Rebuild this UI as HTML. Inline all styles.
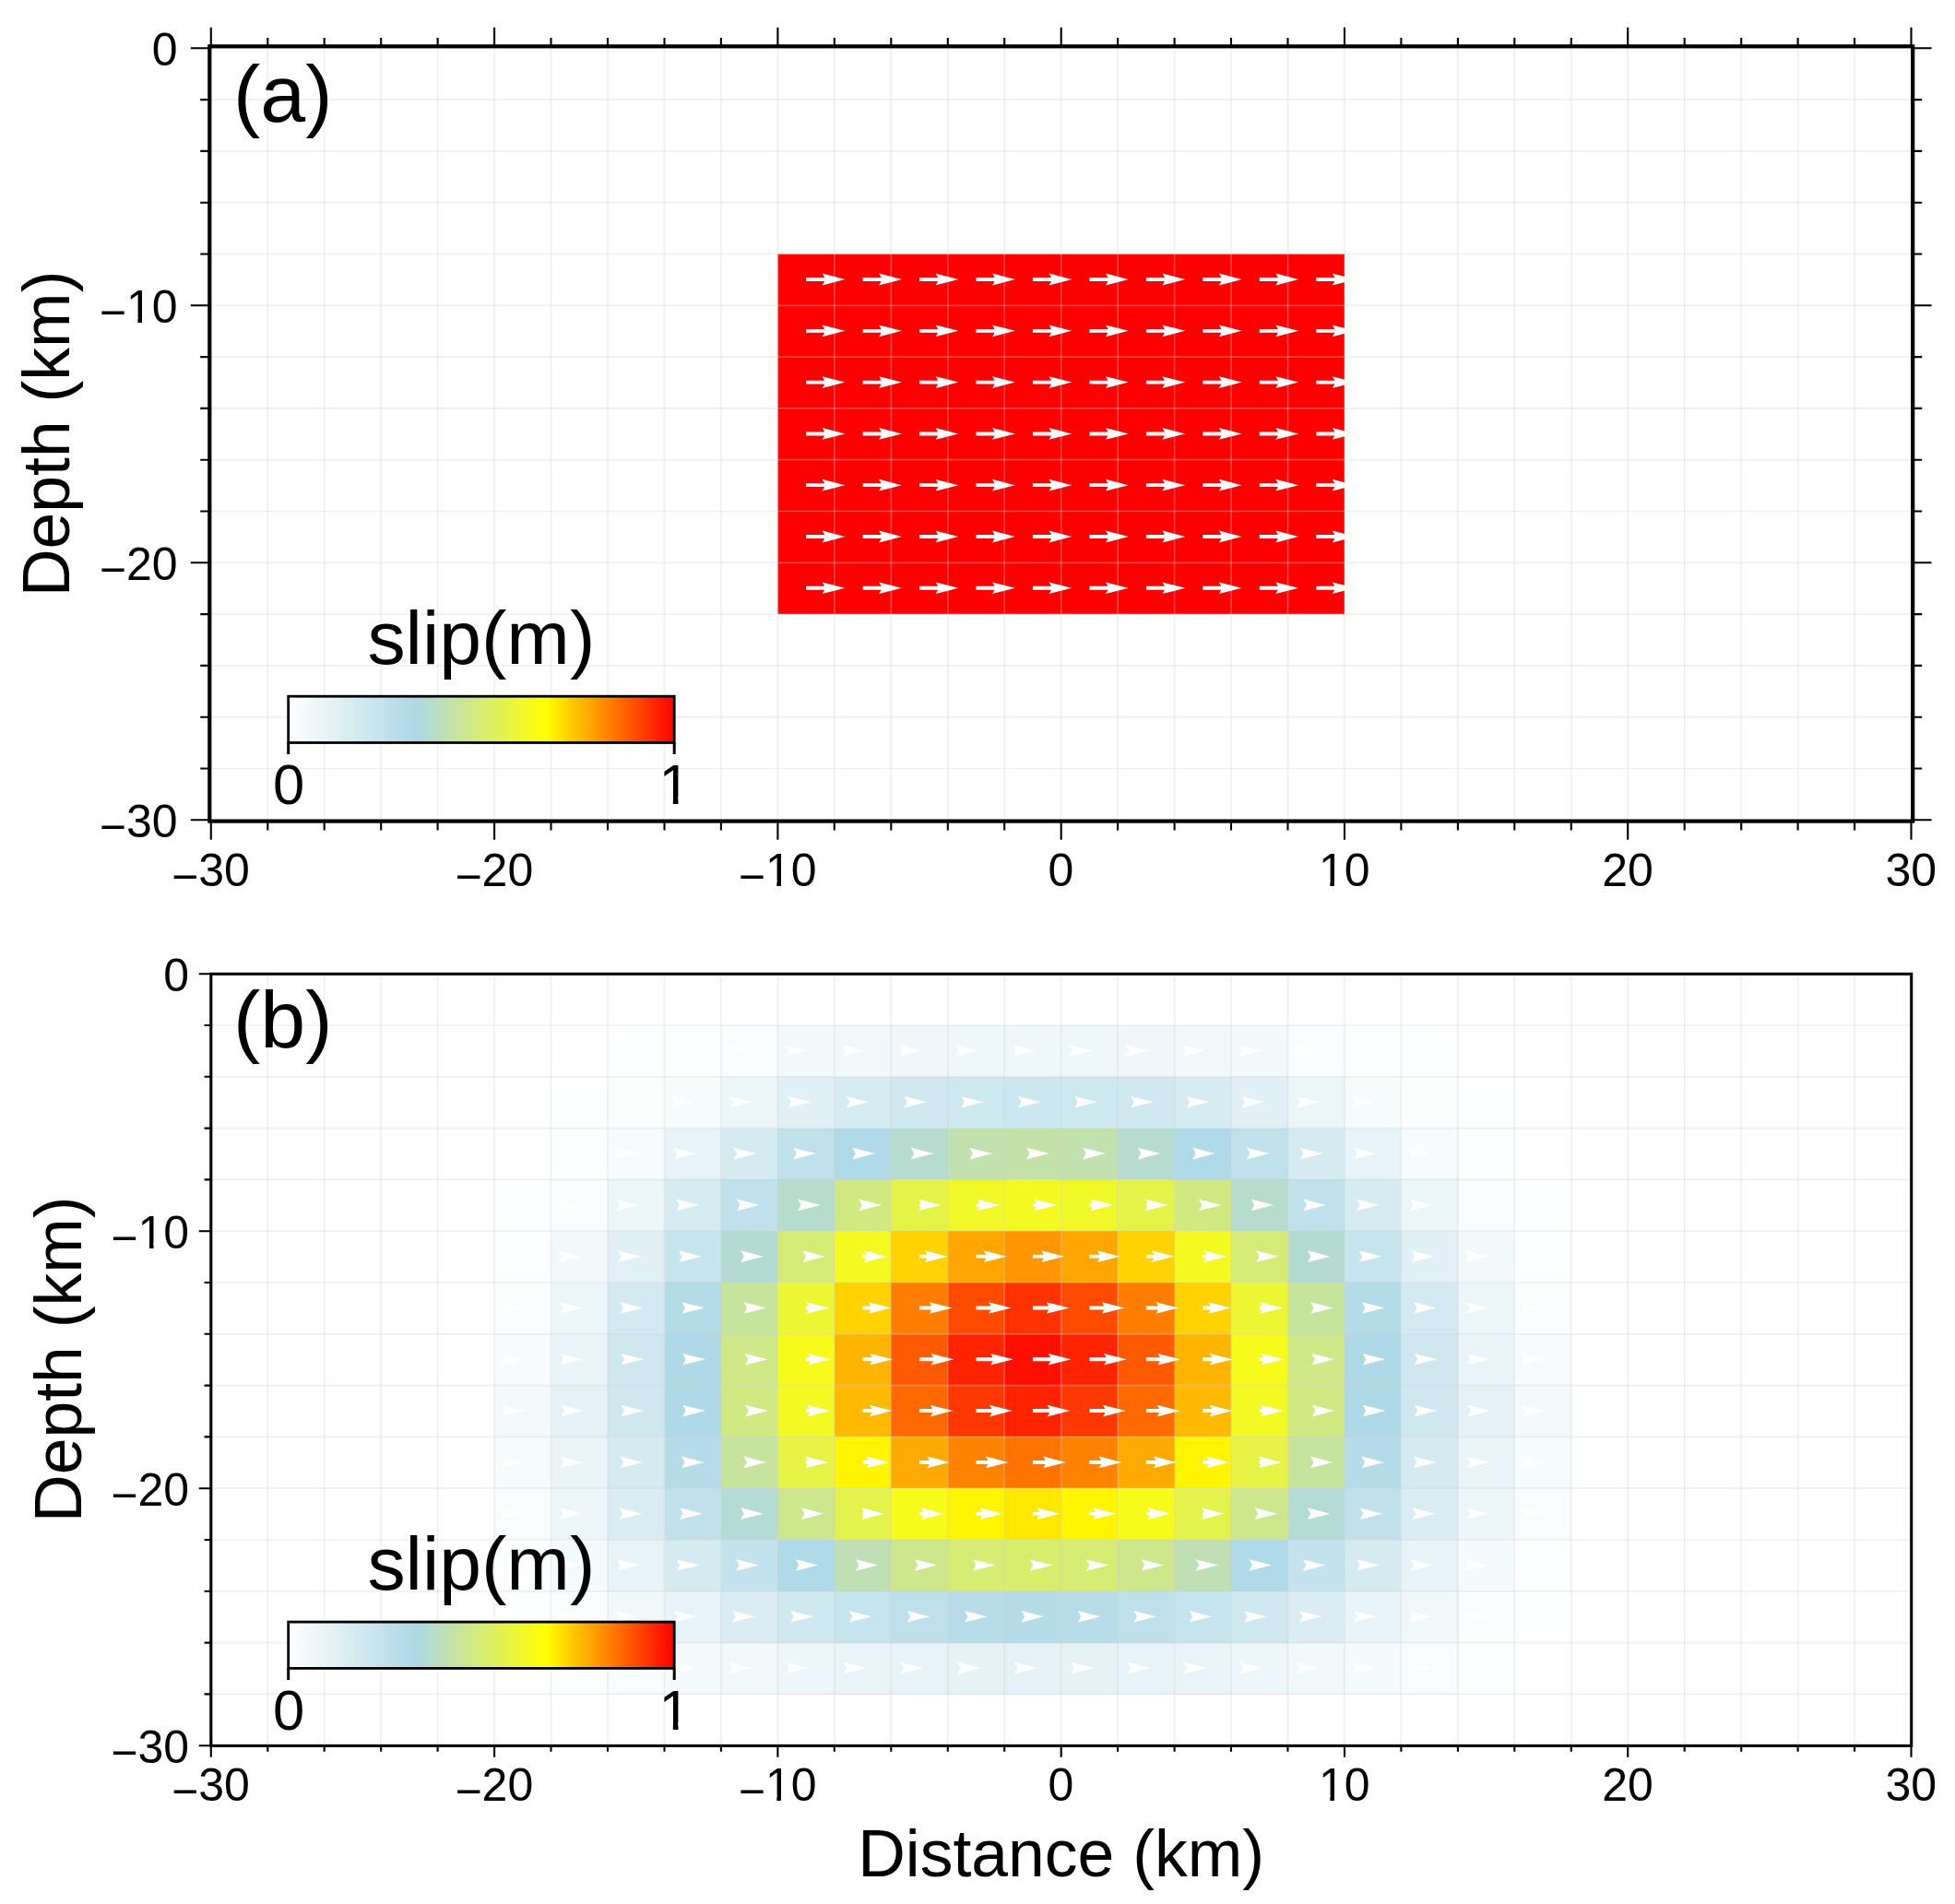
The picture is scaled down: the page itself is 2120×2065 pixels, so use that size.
<!DOCTYPE html>
<html lang="en"><head><meta charset="utf-8"><title>slip model</title>
<style>html,body{margin:0;padding:0;background:#fff}body{width:2120px;height:2065px;overflow:hidden}svg{display:block}text{font-family:"Liberation Sans",Arial,Helvetica,sans-serif;fill:#000}</style></head><body>
<svg width="2120" height="2065" viewBox="0 0 2120 2065">
<defs><linearGradient id="cpt" x1="0" x2="1" y1="0" y2="0"><stop offset="0" stop-color="#ffffff"/><stop offset="0.3333" stop-color="#add8e6"/><stop offset="0.6667" stop-color="#ffff00"/><stop offset="1" stop-color="#ff0000"/></linearGradient></defs>
<rect width="2120" height="2065" fill="#fff"/>
<g id="panel-a">
<rect x="843.4" y="275.5" width="614.6" height="390.6" fill="#ff0000"/>
<g stroke="#d0d0d0" stroke-opacity="0.32" stroke-width="1.7" fill="none"><line x1="290.3" y1="52.3" x2="290.3" y2="889.3"/><line x1="351.7" y1="52.3" x2="351.7" y2="889.3"/><line x1="413.2" y1="52.3" x2="413.2" y2="889.3"/><line x1="474.6" y1="52.3" x2="474.6" y2="889.3"/><line x1="536.1" y1="52.3" x2="536.1" y2="889.3"/><line x1="597.5" y1="52.3" x2="597.5" y2="889.3"/><line x1="659.0" y1="52.3" x2="659.0" y2="889.3"/><line x1="720.5" y1="52.3" x2="720.5" y2="889.3"/><line x1="781.9" y1="52.3" x2="781.9" y2="889.3"/><line x1="843.4" y1="52.3" x2="843.4" y2="889.3"/><line x1="904.8" y1="52.3" x2="904.8" y2="889.3"/><line x1="966.3" y1="52.3" x2="966.3" y2="889.3"/><line x1="1027.8" y1="52.3" x2="1027.8" y2="889.3"/><line x1="1089.2" y1="52.3" x2="1089.2" y2="889.3"/><line x1="1150.7" y1="52.3" x2="1150.7" y2="889.3"/><line x1="1212.1" y1="52.3" x2="1212.1" y2="889.3"/><line x1="1273.6" y1="52.3" x2="1273.6" y2="889.3"/><line x1="1335.0" y1="52.3" x2="1335.0" y2="889.3"/><line x1="1396.5" y1="52.3" x2="1396.5" y2="889.3"/><line x1="1458.0" y1="52.3" x2="1458.0" y2="889.3"/><line x1="1519.4" y1="52.3" x2="1519.4" y2="889.3"/><line x1="1580.9" y1="52.3" x2="1580.9" y2="889.3"/><line x1="1642.3" y1="52.3" x2="1642.3" y2="889.3"/><line x1="1703.8" y1="52.3" x2="1703.8" y2="889.3"/><line x1="1765.2" y1="52.3" x2="1765.2" y2="889.3"/><line x1="1826.7" y1="52.3" x2="1826.7" y2="889.3"/><line x1="1888.2" y1="52.3" x2="1888.2" y2="889.3"/><line x1="1949.6" y1="52.3" x2="1949.6" y2="889.3"/><line x1="2011.1" y1="52.3" x2="2011.1" y2="889.3"/><line x1="228.8" y1="833.5" x2="2072.5" y2="833.5"/><line x1="228.8" y1="777.7" x2="2072.5" y2="777.7"/><line x1="228.8" y1="721.9" x2="2072.5" y2="721.9"/><line x1="228.8" y1="666.1" x2="2072.5" y2="666.1"/><line x1="228.8" y1="610.3" x2="2072.5" y2="610.3"/><line x1="228.8" y1="554.5" x2="2072.5" y2="554.5"/><line x1="228.8" y1="498.7" x2="2072.5" y2="498.7"/><line x1="228.8" y1="442.9" x2="2072.5" y2="442.9"/><line x1="228.8" y1="387.1" x2="2072.5" y2="387.1"/><line x1="228.8" y1="331.3" x2="2072.5" y2="331.3"/><line x1="228.8" y1="275.5" x2="2072.5" y2="275.5"/><line x1="228.8" y1="219.7" x2="2072.5" y2="219.7"/><line x1="228.8" y1="163.9" x2="2072.5" y2="163.9"/><line x1="228.8" y1="108.1" x2="2072.5" y2="108.1"/></g>
<g fill="#fff">
<polygon points="874.1,301.1 894.1,301.1 891.7,296.6 916.4,303.0 891.7,309.4 894.1,304.9 874.1,304.9"/>
<polygon points="935.6,301.1 955.6,301.1 953.2,296.6 977.9,303.0 953.2,309.4 955.6,304.9 935.6,304.9"/>
<polygon points="997.0,301.1 1017.1,301.1 1014.6,296.6 1039.3,303.0 1014.6,309.4 1017.1,304.9 997.0,304.9"/>
<polygon points="1058.5,301.1 1078.5,301.1 1076.1,296.6 1100.8,303.0 1076.1,309.4 1078.5,304.9 1058.5,304.9"/>
<polygon points="1119.9,301.1 1140.0,301.1 1137.5,296.6 1162.2,303.0 1137.5,309.4 1140.0,304.9 1119.9,304.9"/>
<polygon points="1181.4,301.1 1201.4,301.1 1199.0,296.6 1223.7,303.0 1199.0,309.4 1201.4,304.9 1181.4,304.9"/>
<polygon points="1242.9,301.1 1262.9,301.1 1260.5,296.6 1285.2,303.0 1260.5,309.4 1262.9,304.9 1242.9,304.9"/>
<polygon points="1304.3,301.1 1324.3,301.1 1321.9,296.6 1346.6,303.0 1321.9,309.4 1324.3,304.9 1304.3,304.9"/>
<polygon points="1365.8,301.1 1385.8,301.1 1383.4,296.6 1408.1,303.0 1383.4,309.4 1385.8,304.9 1365.8,304.9"/>
<polygon points="1427.2,301.1 1447.3,301.1 1444.8,296.6 1469.5,303.0 1444.8,309.4 1447.3,304.9 1427.2,304.9"/>
<polygon points="874.1,356.9 894.1,356.9 891.7,352.4 916.4,358.8 891.7,365.2 894.1,360.8 874.1,360.8"/>
<polygon points="935.6,356.9 955.6,356.9 953.2,352.4 977.9,358.8 953.2,365.2 955.6,360.8 935.6,360.8"/>
<polygon points="997.0,356.9 1017.1,356.9 1014.6,352.4 1039.3,358.8 1014.6,365.2 1017.1,360.8 997.0,360.8"/>
<polygon points="1058.5,356.9 1078.5,356.9 1076.1,352.4 1100.8,358.8 1076.1,365.2 1078.5,360.8 1058.5,360.8"/>
<polygon points="1119.9,356.9 1140.0,356.9 1137.5,352.4 1162.2,358.8 1137.5,365.2 1140.0,360.8 1119.9,360.8"/>
<polygon points="1181.4,356.9 1201.4,356.9 1199.0,352.4 1223.7,358.8 1199.0,365.2 1201.4,360.8 1181.4,360.8"/>
<polygon points="1242.9,356.9 1262.9,356.9 1260.5,352.4 1285.2,358.8 1260.5,365.2 1262.9,360.8 1242.9,360.8"/>
<polygon points="1304.3,356.9 1324.3,356.9 1321.9,352.4 1346.6,358.8 1321.9,365.2 1324.3,360.8 1304.3,360.8"/>
<polygon points="1365.8,356.9 1385.8,356.9 1383.4,352.4 1408.1,358.8 1383.4,365.2 1385.8,360.8 1365.8,360.8"/>
<polygon points="1427.2,356.9 1447.3,356.9 1444.8,352.4 1469.5,358.8 1444.8,365.2 1447.3,360.8 1427.2,360.8"/>
<polygon points="874.1,412.7 894.1,412.7 891.7,408.2 916.4,414.6 891.7,421.0 894.1,416.6 874.1,416.6"/>
<polygon points="935.6,412.7 955.6,412.7 953.2,408.2 977.9,414.6 953.2,421.0 955.6,416.6 935.6,416.6"/>
<polygon points="997.0,412.7 1017.1,412.7 1014.6,408.2 1039.3,414.6 1014.6,421.0 1017.1,416.6 997.0,416.6"/>
<polygon points="1058.5,412.7 1078.5,412.7 1076.1,408.2 1100.8,414.6 1076.1,421.0 1078.5,416.6 1058.5,416.6"/>
<polygon points="1119.9,412.7 1140.0,412.7 1137.5,408.2 1162.2,414.6 1137.5,421.0 1140.0,416.6 1119.9,416.6"/>
<polygon points="1181.4,412.7 1201.4,412.7 1199.0,408.2 1223.7,414.6 1199.0,421.0 1201.4,416.6 1181.4,416.6"/>
<polygon points="1242.9,412.7 1262.9,412.7 1260.5,408.2 1285.2,414.6 1260.5,421.0 1262.9,416.6 1242.9,416.6"/>
<polygon points="1304.3,412.7 1324.3,412.7 1321.9,408.2 1346.6,414.6 1321.9,421.0 1324.3,416.6 1304.3,416.6"/>
<polygon points="1365.8,412.7 1385.8,412.7 1383.4,408.2 1408.1,414.6 1383.4,421.0 1385.8,416.6 1365.8,416.6"/>
<polygon points="1427.2,412.7 1447.3,412.7 1444.8,408.2 1469.5,414.6 1444.8,421.0 1447.3,416.6 1427.2,416.6"/>
<polygon points="874.1,468.5 894.1,468.5 891.7,464.1 916.4,470.4 891.7,476.8 894.1,472.4 874.1,472.4"/>
<polygon points="935.6,468.5 955.6,468.5 953.2,464.1 977.9,470.4 953.2,476.8 955.6,472.4 935.6,472.4"/>
<polygon points="997.0,468.5 1017.1,468.5 1014.6,464.1 1039.3,470.4 1014.6,476.8 1017.1,472.4 997.0,472.4"/>
<polygon points="1058.5,468.5 1078.5,468.5 1076.1,464.1 1100.8,470.4 1076.1,476.8 1078.5,472.4 1058.5,472.4"/>
<polygon points="1119.9,468.5 1140.0,468.5 1137.5,464.1 1162.2,470.4 1137.5,476.8 1140.0,472.4 1119.9,472.4"/>
<polygon points="1181.4,468.5 1201.4,468.5 1199.0,464.1 1223.7,470.4 1199.0,476.8 1201.4,472.4 1181.4,472.4"/>
<polygon points="1242.9,468.5 1262.9,468.5 1260.5,464.1 1285.2,470.4 1260.5,476.8 1262.9,472.4 1242.9,472.4"/>
<polygon points="1304.3,468.5 1324.3,468.5 1321.9,464.1 1346.6,470.4 1321.9,476.8 1324.3,472.4 1304.3,472.4"/>
<polygon points="1365.8,468.5 1385.8,468.5 1383.4,464.1 1408.1,470.4 1383.4,476.8 1385.8,472.4 1365.8,472.4"/>
<polygon points="1427.2,468.5 1447.3,468.5 1444.8,464.1 1469.5,470.4 1444.8,476.8 1447.3,472.4 1427.2,472.4"/>
<polygon points="874.1,524.2 894.1,524.2 891.7,519.8 916.4,526.2 891.7,532.5 894.1,528.1 874.1,528.1"/>
<polygon points="935.6,524.2 955.6,524.2 953.2,519.8 977.9,526.2 953.2,532.5 955.6,528.1 935.6,528.1"/>
<polygon points="997.0,524.2 1017.1,524.2 1014.6,519.8 1039.3,526.2 1014.6,532.5 1017.1,528.1 997.0,528.1"/>
<polygon points="1058.5,524.2 1078.5,524.2 1076.1,519.8 1100.8,526.2 1076.1,532.5 1078.5,528.1 1058.5,528.1"/>
<polygon points="1119.9,524.2 1140.0,524.2 1137.5,519.8 1162.2,526.2 1137.5,532.5 1140.0,528.1 1119.9,528.1"/>
<polygon points="1181.4,524.2 1201.4,524.2 1199.0,519.8 1223.7,526.2 1199.0,532.5 1201.4,528.1 1181.4,528.1"/>
<polygon points="1242.9,524.2 1262.9,524.2 1260.5,519.8 1285.2,526.2 1260.5,532.5 1262.9,528.1 1242.9,528.1"/>
<polygon points="1304.3,524.2 1324.3,524.2 1321.9,519.8 1346.6,526.2 1321.9,532.5 1324.3,528.1 1304.3,528.1"/>
<polygon points="1365.8,524.2 1385.8,524.2 1383.4,519.8 1408.1,526.2 1383.4,532.5 1385.8,528.1 1365.8,528.1"/>
<polygon points="1427.2,524.2 1447.3,524.2 1444.8,519.8 1469.5,526.2 1444.8,532.5 1447.3,528.1 1427.2,528.1"/>
<polygon points="874.1,580.0 894.1,580.0 891.7,575.6 916.4,582.0 891.7,588.4 894.1,584.0 874.1,584.0"/>
<polygon points="935.6,580.0 955.6,580.0 953.2,575.6 977.9,582.0 953.2,588.4 955.6,584.0 935.6,584.0"/>
<polygon points="997.0,580.0 1017.1,580.0 1014.6,575.6 1039.3,582.0 1014.6,588.4 1017.1,584.0 997.0,584.0"/>
<polygon points="1058.5,580.0 1078.5,580.0 1076.1,575.6 1100.8,582.0 1076.1,588.4 1078.5,584.0 1058.5,584.0"/>
<polygon points="1119.9,580.0 1140.0,580.0 1137.5,575.6 1162.2,582.0 1137.5,588.4 1140.0,584.0 1119.9,584.0"/>
<polygon points="1181.4,580.0 1201.4,580.0 1199.0,575.6 1223.7,582.0 1199.0,588.4 1201.4,584.0 1181.4,584.0"/>
<polygon points="1242.9,580.0 1262.9,580.0 1260.5,575.6 1285.2,582.0 1260.5,588.4 1262.9,584.0 1242.9,584.0"/>
<polygon points="1304.3,580.0 1324.3,580.0 1321.9,575.6 1346.6,582.0 1321.9,588.4 1324.3,584.0 1304.3,584.0"/>
<polygon points="1365.8,580.0 1385.8,580.0 1383.4,575.6 1408.1,582.0 1383.4,588.4 1385.8,584.0 1365.8,584.0"/>
<polygon points="1427.2,580.0 1447.3,580.0 1444.8,575.6 1469.5,582.0 1444.8,588.4 1447.3,584.0 1427.2,584.0"/>
<polygon points="874.1,635.8 894.1,635.8 891.7,631.4 916.4,637.8 891.7,644.1 894.1,639.8 874.1,639.8"/>
<polygon points="935.6,635.8 955.6,635.8 953.2,631.4 977.9,637.8 953.2,644.1 955.6,639.8 935.6,639.8"/>
<polygon points="997.0,635.8 1017.1,635.8 1014.6,631.4 1039.3,637.8 1014.6,644.1 1017.1,639.8 997.0,639.8"/>
<polygon points="1058.5,635.8 1078.5,635.8 1076.1,631.4 1100.8,637.8 1076.1,644.1 1078.5,639.8 1058.5,639.8"/>
<polygon points="1119.9,635.8 1140.0,635.8 1137.5,631.4 1162.2,637.8 1137.5,644.1 1140.0,639.8 1119.9,639.8"/>
<polygon points="1181.4,635.8 1201.4,635.8 1199.0,631.4 1223.7,637.8 1199.0,644.1 1201.4,639.8 1181.4,639.8"/>
<polygon points="1242.9,635.8 1262.9,635.8 1260.5,631.4 1285.2,637.8 1260.5,644.1 1262.9,639.8 1242.9,639.8"/>
<polygon points="1304.3,635.8 1324.3,635.8 1321.9,631.4 1346.6,637.8 1321.9,644.1 1324.3,639.8 1304.3,639.8"/>
<polygon points="1365.8,635.8 1385.8,635.8 1383.4,631.4 1408.1,637.8 1383.4,644.1 1385.8,639.8 1365.8,639.8"/>
<polygon points="1427.2,635.8 1447.3,635.8 1444.8,631.4 1469.5,637.8 1444.8,644.1 1447.3,639.8 1427.2,639.8"/>
</g>
<rect x="312.7" y="755.2" width="418.5" height="50.3" fill="url(#cpt)" stroke="#000" stroke-width="2.8"/><path d="M312.7 805.5V818.0M731.2 805.5V818.0" stroke="#000" stroke-width="3" fill="none"/><text x="313.2" y="871.6" font-size="61.5" text-anchor="middle">0</text><clipPath id="c1" clipPathUnits="userSpaceOnUse"><path clip-rule="evenodd" d="M710.5 810.1H752.7V890.1H710.5ZM716.35 864.22H729.82V873.60H716.35ZM735.47 864.22H748.51V873.60H735.47Z"/></clipPath><text x="731.6" y="871.6" font-size="61.5" text-anchor="middle" clip-path="url(#c1)">1</text><text x="521.9" y="720.4" font-size="82.3" text-anchor="middle">slip(m)</text>
<g stroke="#000" fill="none" stroke-linecap="butt">
<path stroke-width="2.1" d="M228.8 50.3V29.7M228.8 890.6V910.8M536.1 50.3V29.7M536.1 890.6V910.8M843.4 50.3V29.7M843.4 890.6V910.8M1150.7 50.3V29.7M1150.7 890.6V910.8M1458.0 50.3V29.7M1458.0 890.6V910.8M1765.2 50.3V29.7M1765.2 890.6V910.8M2072.5 50.3V29.7M2072.5 890.6V910.8M227.3 889.3H206.8M2074.2 889.3H2094.6M227.3 610.3H206.8M2074.2 610.3H2094.6M227.3 331.3H206.8M2074.2 331.3H2094.6M227.3 52.3H206.8M2074.2 52.3H2094.6"/>
<path stroke-width="2.1" d="M290.3 50.3V41.0M290.3 890.6V900.6M351.7 50.3V41.0M351.7 890.6V900.6M413.2 50.3V41.0M413.2 890.6V900.6M474.6 50.3V41.0M474.6 890.6V900.6M597.5 50.3V41.0M597.5 890.6V900.6M659.0 50.3V41.0M659.0 890.6V900.6M720.5 50.3V41.0M720.5 890.6V900.6M781.9 50.3V41.0M781.9 890.6V900.6M904.8 50.3V41.0M904.8 890.6V900.6M966.3 50.3V41.0M966.3 890.6V900.6M1027.8 50.3V41.0M1027.8 890.6V900.6M1089.2 50.3V41.0M1089.2 890.6V900.6M1212.1 50.3V41.0M1212.1 890.6V900.6M1273.6 50.3V41.0M1273.6 890.6V900.6M1335.0 50.3V41.0M1335.0 890.6V900.6M1396.5 50.3V41.0M1396.5 890.6V900.6M1519.4 50.3V41.0M1519.4 890.6V900.6M1580.9 50.3V41.0M1580.9 890.6V900.6M1642.3 50.3V41.0M1642.3 890.6V900.6M1703.8 50.3V41.0M1703.8 890.6V900.6M1826.7 50.3V41.0M1826.7 890.6V900.6M1888.2 50.3V41.0M1888.2 890.6V900.6M1949.6 50.3V41.0M1949.6 890.6V900.6M2011.1 50.3V41.0M2011.1 890.6V900.6M227.3 833.5H217.2M2074.2 833.5H2084.2M227.3 777.7H217.2M2074.2 777.7H2084.2M227.3 721.9H217.2M2074.2 721.9H2084.2M227.3 666.1H217.2M2074.2 666.1H2084.2M227.3 554.5H217.2M2074.2 554.5H2084.2M227.3 498.7H217.2M2074.2 498.7H2084.2M227.3 442.9H217.2M2074.2 442.9H2084.2M227.3 387.1H217.2M2074.2 387.1H2084.2M227.3 275.5H217.2M2074.2 275.5H2084.2M227.3 219.7H217.2M2074.2 219.7H2084.2M227.3 163.9H217.2M2074.2 163.9H2084.2M227.3 108.1H217.2M2074.2 108.1H2084.2"/>
<rect x="227.3" y="50.3" width="1846.9" height="840.3" stroke-width="4.2"/>
</g>
<g font-size="50">
<text x="228.5" y="961.3" font-size="50" text-anchor="middle"><tspan dy="6.5">−</tspan><tspan dy="-6.5">30</tspan></text>
<text x="535.8" y="961.3" font-size="50" text-anchor="middle"><tspan dy="6.5">−</tspan><tspan dy="-6.5">20</tspan></text>
<clipPath id="c2" clipPathUnits="userSpaceOnUse"><path clip-rule="evenodd" d="M796.7 911.3H889.5V976.3H796.7ZM831.38 955.30H842.33V963.30H831.38ZM846.93 955.30H857.53V963.30H846.93Z"/></clipPath><text x="843.1" y="961.3" font-size="50" text-anchor="middle" clip-path="url(#c2)"><tspan dy="6.5">−</tspan><tspan dy="-6.5">10</tspan></text>
<text x="1150.4" y="961.3" font-size="50" text-anchor="middle">0</text>
<clipPath id="c3" clipPathUnits="userSpaceOnUse"><path clip-rule="evenodd" d="M1425.9 911.3H1489.5V976.3H1425.9ZM1431.36 955.30H1442.31V963.30H1431.36ZM1446.91 955.30H1457.51V963.30H1446.91Z"/></clipPath><text x="1457.7" y="961.3" font-size="50" text-anchor="middle" clip-path="url(#c3)">10</text>
<text x="1765.0" y="961.3" font-size="50" text-anchor="middle">20</text>
<text x="2072.2" y="961.3" font-size="50" text-anchor="middle">30</text>
<text x="192.5" y="907.8" font-size="50" text-anchor="end"><tspan dy="6.5">−</tspan><tspan dy="-6.5">30</tspan></text>
<text x="192.5" y="628.8" font-size="50" text-anchor="end"><tspan dy="6.5">−</tspan><tspan dy="-6.5">20</tspan></text>
<clipPath id="c4" clipPathUnits="userSpaceOnUse"><path clip-rule="evenodd" d="M103.7 299.8H196.5V364.8H103.7ZM138.40 343.80H149.35V351.80H138.40ZM153.95 343.80H164.55V351.80H153.95Z"/></clipPath><text x="192.5" y="349.8" font-size="50" text-anchor="end" clip-path="url(#c4)"><tspan dy="6.5">−</tspan><tspan dy="-6.5">10</tspan></text>
<text x="192.5" y="70.8" font-size="50" text-anchor="end">0</text>
</g>
<text font-size="71.5" text-anchor="middle" transform="translate(75.2 470.3) rotate(-90)">Depth (km)</text>
<text x="253.0" y="132.0" font-size="88">(a)</text>
</g>
<g id="panel-b">
<g shape-rendering="crispEdges">
<rect x="659.0" y="1112.0" width="61.8" height="56.1" fill="#feffff"/>
<rect x="720.5" y="1112.0" width="61.8" height="56.1" fill="#fdfefe"/>
<rect x="781.9" y="1112.0" width="61.8" height="56.1" fill="#fafdfe"/>
<rect x="843.4" y="1112.0" width="61.8" height="56.1" fill="#f3f9fb"/>
<rect x="904.8" y="1112.0" width="61.8" height="56.1" fill="#f0f8fa"/>
<rect x="966.3" y="1112.0" width="61.8" height="56.1" fill="#eff7fa"/>
<rect x="1027.8" y="1112.0" width="61.8" height="56.1" fill="#eef7fa"/>
<rect x="1089.2" y="1112.0" width="61.8" height="56.1" fill="#eef7fa"/>
<rect x="1150.7" y="1112.0" width="61.8" height="56.1" fill="#eef7fa"/>
<rect x="1212.1" y="1112.0" width="61.8" height="56.1" fill="#eff7fa"/>
<rect x="1273.6" y="1112.0" width="61.8" height="56.1" fill="#f0f8fa"/>
<rect x="1335.0" y="1112.0" width="61.8" height="56.1" fill="#f3f9fb"/>
<rect x="1396.5" y="1112.0" width="61.8" height="56.1" fill="#fafdfe"/>
<rect x="1458.0" y="1112.0" width="61.8" height="56.1" fill="#fdfefe"/>
<rect x="1519.4" y="1112.0" width="61.8" height="56.1" fill="#feffff"/>
<rect x="597.5" y="1167.8" width="61.8" height="56.1" fill="#feffff"/>
<rect x="659.0" y="1167.8" width="61.8" height="56.1" fill="#fcfefe"/>
<rect x="720.5" y="1167.8" width="61.8" height="56.1" fill="#f6fbfc"/>
<rect x="781.9" y="1167.8" width="61.8" height="56.1" fill="#ebf6f9"/>
<rect x="843.4" y="1167.8" width="61.8" height="56.1" fill="#e0f0f6"/>
<rect x="904.8" y="1167.8" width="61.8" height="56.1" fill="#d6ecf3"/>
<rect x="966.3" y="1167.8" width="61.8" height="56.1" fill="#d0e9f1"/>
<rect x="1027.8" y="1167.8" width="61.8" height="56.1" fill="#cee8f0"/>
<rect x="1089.2" y="1167.8" width="61.8" height="56.1" fill="#cce7ef"/>
<rect x="1150.7" y="1167.8" width="61.8" height="56.1" fill="#cee8f0"/>
<rect x="1212.1" y="1167.8" width="61.8" height="56.1" fill="#d0e9f1"/>
<rect x="1273.6" y="1167.8" width="61.8" height="56.1" fill="#d6ecf3"/>
<rect x="1335.0" y="1167.8" width="61.8" height="56.1" fill="#e0f0f6"/>
<rect x="1396.5" y="1167.8" width="61.8" height="56.1" fill="#ebf6f9"/>
<rect x="1458.0" y="1167.8" width="61.8" height="56.1" fill="#f6fbfc"/>
<rect x="1519.4" y="1167.8" width="61.8" height="56.1" fill="#fcfefe"/>
<rect x="1580.9" y="1167.8" width="61.8" height="56.1" fill="#feffff"/>
<rect x="597.5" y="1223.6" width="61.8" height="56.1" fill="#fdfefe"/>
<rect x="659.0" y="1223.6" width="61.8" height="56.1" fill="#f8fbfd"/>
<rect x="720.5" y="1223.6" width="61.8" height="56.1" fill="#e6f3f8"/>
<rect x="781.9" y="1223.6" width="61.8" height="56.1" fill="#d4ebf2"/>
<rect x="843.4" y="1223.6" width="61.8" height="56.1" fill="#c0e1ec"/>
<rect x="904.8" y="1223.6" width="61.8" height="56.1" fill="#b0dae7"/>
<rect x="966.3" y="1223.6" width="61.8" height="56.1" fill="#b5dccf"/>
<rect x="1027.8" y="1223.6" width="61.8" height="56.1" fill="#c1e1af"/>
<rect x="1089.2" y="1223.6" width="61.8" height="56.1" fill="#c2e2aa"/>
<rect x="1150.7" y="1223.6" width="61.8" height="56.1" fill="#c1e1af"/>
<rect x="1212.1" y="1223.6" width="61.8" height="56.1" fill="#b5dccf"/>
<rect x="1273.6" y="1223.6" width="61.8" height="56.1" fill="#b0dae7"/>
<rect x="1335.0" y="1223.6" width="61.8" height="56.1" fill="#c0e1ec"/>
<rect x="1396.5" y="1223.6" width="61.8" height="56.1" fill="#d4ebf2"/>
<rect x="1458.0" y="1223.6" width="61.8" height="56.1" fill="#e6f3f8"/>
<rect x="1519.4" y="1223.6" width="61.8" height="56.1" fill="#f8fbfd"/>
<rect x="1580.9" y="1223.6" width="61.8" height="56.1" fill="#fdfefe"/>
<rect x="536.1" y="1279.4" width="61.8" height="56.1" fill="#feffff"/>
<rect x="597.5" y="1279.4" width="61.8" height="56.1" fill="#fafdfe"/>
<rect x="659.0" y="1279.4" width="61.8" height="56.1" fill="#ebf6f9"/>
<rect x="720.5" y="1279.4" width="61.8" height="56.1" fill="#d6ecf3"/>
<rect x="781.9" y="1279.4" width="61.8" height="56.1" fill="#bfe1ec"/>
<rect x="843.4" y="1279.4" width="61.8" height="56.1" fill="#b6dccd"/>
<rect x="904.8" y="1279.4" width="61.8" height="56.1" fill="#d1e981"/>
<rect x="966.3" y="1279.4" width="61.8" height="56.1" fill="#e5f348"/>
<rect x="1027.8" y="1279.4" width="61.8" height="56.1" fill="#f1f827"/>
<rect x="1089.2" y="1279.4" width="61.8" height="56.1" fill="#f4fa20"/>
<rect x="1150.7" y="1279.4" width="61.8" height="56.1" fill="#f1f827"/>
<rect x="1212.1" y="1279.4" width="61.8" height="56.1" fill="#e5f348"/>
<rect x="1273.6" y="1279.4" width="61.8" height="56.1" fill="#d1e981"/>
<rect x="1335.0" y="1279.4" width="61.8" height="56.1" fill="#b6dccd"/>
<rect x="1396.5" y="1279.4" width="61.8" height="56.1" fill="#bfe1ec"/>
<rect x="1458.0" y="1279.4" width="61.8" height="56.1" fill="#d6ecf3"/>
<rect x="1519.4" y="1279.4" width="61.8" height="56.1" fill="#ebf6f9"/>
<rect x="1580.9" y="1279.4" width="61.8" height="56.1" fill="#fafdfe"/>
<rect x="1642.3" y="1279.4" width="61.8" height="56.1" fill="#feffff"/>
<rect x="536.1" y="1335.2" width="61.8" height="56.1" fill="#fdfefe"/>
<rect x="597.5" y="1335.2" width="61.8" height="56.1" fill="#f3f9fb"/>
<rect x="659.0" y="1335.2" width="61.8" height="56.1" fill="#e0f0f6"/>
<rect x="720.5" y="1335.2" width="61.8" height="56.1" fill="#c6e4ee"/>
<rect x="781.9" y="1335.2" width="61.8" height="56.1" fill="#b4dbd2"/>
<rect x="843.4" y="1335.2" width="61.8" height="56.1" fill="#d5eb76"/>
<rect x="904.8" y="1335.2" width="61.8" height="56.1" fill="#f4fa20"/>
<rect x="966.3" y="1335.2" width="61.8" height="56.1" fill="#ffd200"/>
<rect x="1027.8" y="1335.2" width="61.8" height="56.1" fill="#ffa500"/>
<rect x="1089.2" y="1335.2" width="61.8" height="56.1" fill="#ff9600"/>
<rect x="1150.7" y="1335.2" width="61.8" height="56.1" fill="#ffa500"/>
<rect x="1212.1" y="1335.2" width="61.8" height="56.1" fill="#ffd200"/>
<rect x="1273.6" y="1335.2" width="61.8" height="56.1" fill="#f4fa20"/>
<rect x="1335.0" y="1335.2" width="61.8" height="56.1" fill="#d5eb76"/>
<rect x="1396.5" y="1335.2" width="61.8" height="56.1" fill="#b4dbd2"/>
<rect x="1458.0" y="1335.2" width="61.8" height="56.1" fill="#c6e4ee"/>
<rect x="1519.4" y="1335.2" width="61.8" height="56.1" fill="#e0f0f6"/>
<rect x="1580.9" y="1335.2" width="61.8" height="56.1" fill="#f3f9fb"/>
<rect x="1642.3" y="1335.2" width="61.8" height="56.1" fill="#fdfefe"/>
<rect x="536.1" y="1391.0" width="61.8" height="56.1" fill="#fafdfe"/>
<rect x="597.5" y="1391.0" width="61.8" height="56.1" fill="#ebf6f9"/>
<rect x="659.0" y="1391.0" width="61.8" height="56.1" fill="#d3eaf2"/>
<rect x="720.5" y="1391.0" width="61.8" height="56.1" fill="#b4dbe8"/>
<rect x="781.9" y="1391.0" width="61.8" height="56.1" fill="#c7e49c"/>
<rect x="843.4" y="1391.0" width="61.8" height="56.1" fill="#edf632"/>
<rect x="904.8" y="1391.0" width="61.8" height="56.1" fill="#ffd200"/>
<rect x="966.3" y="1391.0" width="61.8" height="56.1" fill="#ff7d00"/>
<rect x="1027.8" y="1391.0" width="61.8" height="56.1" fill="#ff4b00"/>
<rect x="1089.2" y="1391.0" width="61.8" height="56.1" fill="#ff3200"/>
<rect x="1150.7" y="1391.0" width="61.8" height="56.1" fill="#ff4b00"/>
<rect x="1212.1" y="1391.0" width="61.8" height="56.1" fill="#ff7d00"/>
<rect x="1273.6" y="1391.0" width="61.8" height="56.1" fill="#ffd200"/>
<rect x="1335.0" y="1391.0" width="61.8" height="56.1" fill="#edf632"/>
<rect x="1396.5" y="1391.0" width="61.8" height="56.1" fill="#c7e49c"/>
<rect x="1458.0" y="1391.0" width="61.8" height="56.1" fill="#b4dbe8"/>
<rect x="1519.4" y="1391.0" width="61.8" height="56.1" fill="#d3eaf2"/>
<rect x="1580.9" y="1391.0" width="61.8" height="56.1" fill="#ebf6f9"/>
<rect x="1642.3" y="1391.0" width="61.8" height="56.1" fill="#fafdfe"/>
<rect x="536.1" y="1446.8" width="61.8" height="56.1" fill="#f8fbfd"/>
<rect x="597.5" y="1446.8" width="61.8" height="56.1" fill="#e9f4f8"/>
<rect x="659.0" y="1446.8" width="61.8" height="56.1" fill="#cfe8f0"/>
<rect x="720.5" y="1446.8" width="61.8" height="56.1" fill="#afd9e7"/>
<rect x="781.9" y="1446.8" width="61.8" height="56.1" fill="#cfe888"/>
<rect x="843.4" y="1446.8" width="61.8" height="56.1" fill="#f6fb19"/>
<rect x="904.8" y="1446.8" width="61.8" height="56.1" fill="#ffb400"/>
<rect x="966.3" y="1446.8" width="61.8" height="56.1" fill="#ff5a00"/>
<rect x="1027.8" y="1446.8" width="61.8" height="56.1" fill="#ff2300"/>
<rect x="1089.2" y="1446.8" width="61.8" height="56.1" fill="#ff0f00"/>
<rect x="1150.7" y="1446.8" width="61.8" height="56.1" fill="#ff2300"/>
<rect x="1212.1" y="1446.8" width="61.8" height="56.1" fill="#ff5a00"/>
<rect x="1273.6" y="1446.8" width="61.8" height="56.1" fill="#ffb400"/>
<rect x="1335.0" y="1446.8" width="61.8" height="56.1" fill="#f6fb19"/>
<rect x="1396.5" y="1446.8" width="61.8" height="56.1" fill="#cfe888"/>
<rect x="1458.0" y="1446.8" width="61.8" height="56.1" fill="#afd9e7"/>
<rect x="1519.4" y="1446.8" width="61.8" height="56.1" fill="#cfe8f0"/>
<rect x="1580.9" y="1446.8" width="61.8" height="56.1" fill="#e9f4f8"/>
<rect x="1642.3" y="1446.8" width="61.8" height="56.1" fill="#f8fbfd"/>
<rect x="536.1" y="1502.6" width="61.8" height="56.1" fill="#f4fafc"/>
<rect x="597.5" y="1502.6" width="61.8" height="56.1" fill="#e4f2f7"/>
<rect x="659.0" y="1502.6" width="61.8" height="56.1" fill="#cfe8f0"/>
<rect x="720.5" y="1502.6" width="61.8" height="56.1" fill="#afd9e7"/>
<rect x="781.9" y="1502.6" width="61.8" height="56.1" fill="#d1e982"/>
<rect x="843.4" y="1502.6" width="61.8" height="56.1" fill="#f3f923"/>
<rect x="904.8" y="1502.6" width="61.8" height="56.1" fill="#ffb900"/>
<rect x="966.3" y="1502.6" width="61.8" height="56.1" fill="#ff6900"/>
<rect x="1027.8" y="1502.6" width="61.8" height="56.1" fill="#ff3700"/>
<rect x="1089.2" y="1502.6" width="61.8" height="56.1" fill="#ff2300"/>
<rect x="1150.7" y="1502.6" width="61.8" height="56.1" fill="#ff3700"/>
<rect x="1212.1" y="1502.6" width="61.8" height="56.1" fill="#ff6900"/>
<rect x="1273.6" y="1502.6" width="61.8" height="56.1" fill="#ffb900"/>
<rect x="1335.0" y="1502.6" width="61.8" height="56.1" fill="#f3f923"/>
<rect x="1396.5" y="1502.6" width="61.8" height="56.1" fill="#d1e982"/>
<rect x="1458.0" y="1502.6" width="61.8" height="56.1" fill="#afd9e7"/>
<rect x="1519.4" y="1502.6" width="61.8" height="56.1" fill="#cfe8f0"/>
<rect x="1580.9" y="1502.6" width="61.8" height="56.1" fill="#e4f2f7"/>
<rect x="1642.3" y="1502.6" width="61.8" height="56.1" fill="#f4fafc"/>
<rect x="536.1" y="1558.4" width="61.8" height="56.1" fill="#f6fbfc"/>
<rect x="597.5" y="1558.4" width="61.8" height="56.1" fill="#e8f4f8"/>
<rect x="659.0" y="1558.4" width="61.8" height="56.1" fill="#d4ebf2"/>
<rect x="720.5" y="1558.4" width="61.8" height="56.1" fill="#b6dce9"/>
<rect x="781.9" y="1558.4" width="61.8" height="56.1" fill="#c7e49e"/>
<rect x="843.4" y="1558.4" width="61.8" height="56.1" fill="#e6f345"/>
<rect x="904.8" y="1558.4" width="61.8" height="56.1" fill="#fff500"/>
<rect x="966.3" y="1558.4" width="61.8" height="56.1" fill="#ffaa00"/>
<rect x="1027.8" y="1558.4" width="61.8" height="56.1" fill="#ff8200"/>
<rect x="1089.2" y="1558.4" width="61.8" height="56.1" fill="#ff7300"/>
<rect x="1150.7" y="1558.4" width="61.8" height="56.1" fill="#ff8200"/>
<rect x="1212.1" y="1558.4" width="61.8" height="56.1" fill="#ffaa00"/>
<rect x="1273.6" y="1558.4" width="61.8" height="56.1" fill="#fff500"/>
<rect x="1335.0" y="1558.4" width="61.8" height="56.1" fill="#e6f345"/>
<rect x="1396.5" y="1558.4" width="61.8" height="56.1" fill="#c7e49e"/>
<rect x="1458.0" y="1558.4" width="61.8" height="56.1" fill="#b6dce9"/>
<rect x="1519.4" y="1558.4" width="61.8" height="56.1" fill="#d4ebf2"/>
<rect x="1580.9" y="1558.4" width="61.8" height="56.1" fill="#e8f4f8"/>
<rect x="1642.3" y="1558.4" width="61.8" height="56.1" fill="#f6fbfc"/>
<rect x="536.1" y="1614.2" width="61.8" height="56.1" fill="#f8fcfd"/>
<rect x="597.5" y="1614.2" width="61.8" height="56.1" fill="#ecf6f9"/>
<rect x="659.0" y="1614.2" width="61.8" height="56.1" fill="#daedf4"/>
<rect x="720.5" y="1614.2" width="61.8" height="56.1" fill="#c0e1ec"/>
<rect x="781.9" y="1614.2" width="61.8" height="56.1" fill="#b4dbd4"/>
<rect x="843.4" y="1614.2" width="61.8" height="56.1" fill="#cde78d"/>
<rect x="904.8" y="1614.2" width="61.8" height="56.1" fill="#e4f24c"/>
<rect x="966.3" y="1614.2" width="61.8" height="56.1" fill="#f6fb19"/>
<rect x="1027.8" y="1614.2" width="61.8" height="56.1" fill="#fff500"/>
<rect x="1089.2" y="1614.2" width="61.8" height="56.1" fill="#ffe800"/>
<rect x="1150.7" y="1614.2" width="61.8" height="56.1" fill="#fff500"/>
<rect x="1212.1" y="1614.2" width="61.8" height="56.1" fill="#f6fb19"/>
<rect x="1273.6" y="1614.2" width="61.8" height="56.1" fill="#e4f24c"/>
<rect x="1335.0" y="1614.2" width="61.8" height="56.1" fill="#cde78d"/>
<rect x="1396.5" y="1614.2" width="61.8" height="56.1" fill="#b4dbd4"/>
<rect x="1458.0" y="1614.2" width="61.8" height="56.1" fill="#c0e1ec"/>
<rect x="1519.4" y="1614.2" width="61.8" height="56.1" fill="#daedf4"/>
<rect x="1580.9" y="1614.2" width="61.8" height="56.1" fill="#ecf6f9"/>
<rect x="1642.3" y="1614.2" width="61.8" height="56.1" fill="#f8fcfd"/>
<rect x="536.1" y="1670.0" width="61.8" height="56.1" fill="#fdfefe"/>
<rect x="597.5" y="1670.0" width="61.8" height="56.1" fill="#f5fafc"/>
<rect x="659.0" y="1670.0" width="61.8" height="56.1" fill="#e6f3f8"/>
<rect x="720.5" y="1670.0" width="61.8" height="56.1" fill="#d5ebf2"/>
<rect x="781.9" y="1670.0" width="61.8" height="56.1" fill="#c3e2ed"/>
<rect x="843.4" y="1670.0" width="61.8" height="56.1" fill="#b0dae7"/>
<rect x="904.8" y="1670.0" width="61.8" height="56.1" fill="#bfe0b5"/>
<rect x="966.3" y="1670.0" width="61.8" height="56.1" fill="#cde78d"/>
<rect x="1027.8" y="1670.0" width="61.8" height="56.1" fill="#d6ec73"/>
<rect x="1089.2" y="1670.0" width="61.8" height="56.1" fill="#d8ed6c"/>
<rect x="1150.7" y="1670.0" width="61.8" height="56.1" fill="#d6ec73"/>
<rect x="1212.1" y="1670.0" width="61.8" height="56.1" fill="#cde78d"/>
<rect x="1273.6" y="1670.0" width="61.8" height="56.1" fill="#bfe0b5"/>
<rect x="1335.0" y="1670.0" width="61.8" height="56.1" fill="#b0dae7"/>
<rect x="1396.5" y="1670.0" width="61.8" height="56.1" fill="#c3e2ed"/>
<rect x="1458.0" y="1670.0" width="61.8" height="56.1" fill="#d5ebf2"/>
<rect x="1519.4" y="1670.0" width="61.8" height="56.1" fill="#e6f3f8"/>
<rect x="1580.9" y="1670.0" width="61.8" height="56.1" fill="#f5fafc"/>
<rect x="1642.3" y="1670.0" width="61.8" height="56.1" fill="#fdfefe"/>
<rect x="536.1" y="1725.8" width="61.8" height="56.1" fill="#feffff"/>
<rect x="597.5" y="1725.8" width="61.8" height="56.1" fill="#fafdfe"/>
<rect x="659.0" y="1725.8" width="61.8" height="56.1" fill="#f0f8fa"/>
<rect x="720.5" y="1725.8" width="61.8" height="56.1" fill="#e6f3f8"/>
<rect x="781.9" y="1725.8" width="61.8" height="56.1" fill="#daedf4"/>
<rect x="843.4" y="1725.8" width="61.8" height="56.1" fill="#d0e9f1"/>
<rect x="904.8" y="1725.8" width="61.8" height="56.1" fill="#c5e4ed"/>
<rect x="966.3" y="1725.8" width="61.8" height="56.1" fill="#bde0eb"/>
<rect x="1027.8" y="1725.8" width="61.8" height="56.1" fill="#b8dde9"/>
<rect x="1089.2" y="1725.8" width="61.8" height="56.1" fill="#b6dce9"/>
<rect x="1150.7" y="1725.8" width="61.8" height="56.1" fill="#b8dde9"/>
<rect x="1212.1" y="1725.8" width="61.8" height="56.1" fill="#bde0eb"/>
<rect x="1273.6" y="1725.8" width="61.8" height="56.1" fill="#c5e4ed"/>
<rect x="1335.0" y="1725.8" width="61.8" height="56.1" fill="#d0e9f1"/>
<rect x="1396.5" y="1725.8" width="61.8" height="56.1" fill="#daedf4"/>
<rect x="1458.0" y="1725.8" width="61.8" height="56.1" fill="#e6f3f8"/>
<rect x="1519.4" y="1725.8" width="61.8" height="56.1" fill="#f0f8fa"/>
<rect x="1580.9" y="1725.8" width="61.8" height="56.1" fill="#fafdfe"/>
<rect x="1642.3" y="1725.8" width="61.8" height="56.1" fill="#feffff"/>
<rect x="597.5" y="1781.6" width="61.8" height="56.1" fill="#fdfefe"/>
<rect x="659.0" y="1781.6" width="61.8" height="56.1" fill="#f9fcfd"/>
<rect x="720.5" y="1781.6" width="61.8" height="56.1" fill="#f5fafc"/>
<rect x="781.9" y="1781.6" width="61.8" height="56.1" fill="#f0f8fa"/>
<rect x="843.4" y="1781.6" width="61.8" height="56.1" fill="#edf6f9"/>
<rect x="904.8" y="1781.6" width="61.8" height="56.1" fill="#e9f4f8"/>
<rect x="966.3" y="1781.6" width="61.8" height="56.1" fill="#e6f3f8"/>
<rect x="1027.8" y="1781.6" width="61.8" height="56.1" fill="#e5f3f7"/>
<rect x="1089.2" y="1781.6" width="61.8" height="56.1" fill="#e4f2f7"/>
<rect x="1150.7" y="1781.6" width="61.8" height="56.1" fill="#e5f3f7"/>
<rect x="1212.1" y="1781.6" width="61.8" height="56.1" fill="#e6f3f8"/>
<rect x="1273.6" y="1781.6" width="61.8" height="56.1" fill="#e9f4f8"/>
<rect x="1335.0" y="1781.6" width="61.8" height="56.1" fill="#edf6f9"/>
<rect x="1396.5" y="1781.6" width="61.8" height="56.1" fill="#f0f8fa"/>
<rect x="1458.0" y="1781.6" width="61.8" height="56.1" fill="#f5fafc"/>
<rect x="1519.4" y="1781.6" width="61.8" height="56.1" fill="#f9fcfd"/>
<rect x="1580.9" y="1781.6" width="61.8" height="56.1" fill="#fdfefe"/>
</g>
<g stroke="#d0d0d0" stroke-opacity="0.32" stroke-width="1.7" fill="none"><line x1="290.3" y1="1056.2" x2="290.3" y2="1893.2"/><line x1="351.7" y1="1056.2" x2="351.7" y2="1893.2"/><line x1="413.2" y1="1056.2" x2="413.2" y2="1893.2"/><line x1="474.6" y1="1056.2" x2="474.6" y2="1893.2"/><line x1="536.1" y1="1056.2" x2="536.1" y2="1893.2"/><line x1="597.5" y1="1056.2" x2="597.5" y2="1893.2"/><line x1="659.0" y1="1056.2" x2="659.0" y2="1893.2"/><line x1="720.5" y1="1056.2" x2="720.5" y2="1893.2"/><line x1="781.9" y1="1056.2" x2="781.9" y2="1893.2"/><line x1="843.4" y1="1056.2" x2="843.4" y2="1893.2"/><line x1="904.8" y1="1056.2" x2="904.8" y2="1893.2"/><line x1="966.3" y1="1056.2" x2="966.3" y2="1893.2"/><line x1="1027.8" y1="1056.2" x2="1027.8" y2="1893.2"/><line x1="1089.2" y1="1056.2" x2="1089.2" y2="1893.2"/><line x1="1150.7" y1="1056.2" x2="1150.7" y2="1893.2"/><line x1="1212.1" y1="1056.2" x2="1212.1" y2="1893.2"/><line x1="1273.6" y1="1056.2" x2="1273.6" y2="1893.2"/><line x1="1335.0" y1="1056.2" x2="1335.0" y2="1893.2"/><line x1="1396.5" y1="1056.2" x2="1396.5" y2="1893.2"/><line x1="1458.0" y1="1056.2" x2="1458.0" y2="1893.2"/><line x1="1519.4" y1="1056.2" x2="1519.4" y2="1893.2"/><line x1="1580.9" y1="1056.2" x2="1580.9" y2="1893.2"/><line x1="1642.3" y1="1056.2" x2="1642.3" y2="1893.2"/><line x1="1703.8" y1="1056.2" x2="1703.8" y2="1893.2"/><line x1="1765.2" y1="1056.2" x2="1765.2" y2="1893.2"/><line x1="1826.7" y1="1056.2" x2="1826.7" y2="1893.2"/><line x1="1888.2" y1="1056.2" x2="1888.2" y2="1893.2"/><line x1="1949.6" y1="1056.2" x2="1949.6" y2="1893.2"/><line x1="2011.1" y1="1056.2" x2="2011.1" y2="1893.2"/><line x1="228.8" y1="1837.4" x2="2072.5" y2="1837.4"/><line x1="228.8" y1="1781.6" x2="2072.5" y2="1781.6"/><line x1="228.8" y1="1725.8" x2="2072.5" y2="1725.8"/><line x1="228.8" y1="1670.0" x2="2072.5" y2="1670.0"/><line x1="228.8" y1="1614.2" x2="2072.5" y2="1614.2"/><line x1="228.8" y1="1558.4" x2="2072.5" y2="1558.4"/><line x1="228.8" y1="1502.6" x2="2072.5" y2="1502.6"/><line x1="228.8" y1="1446.8" x2="2072.5" y2="1446.8"/><line x1="228.8" y1="1391.0" x2="2072.5" y2="1391.0"/><line x1="228.8" y1="1335.2" x2="2072.5" y2="1335.2"/><line x1="228.8" y1="1279.4" x2="2072.5" y2="1279.4"/><line x1="228.8" y1="1223.6" x2="2072.5" y2="1223.6"/><line x1="228.8" y1="1167.8" x2="2072.5" y2="1167.8"/><line x1="228.8" y1="1112.0" x2="2072.5" y2="1112.0"/></g>
<g fill="#fff">
<polygon points="792.3,1139.5 788.8,1133.2 813.5,1139.5 788.8,1145.8"/>
<polygon points="855.0,1139.5 851.5,1133.2 876.2,1139.5 851.5,1145.8"/>
<polygon points="916.9,1139.5 913.4,1133.2 938.1,1139.5 913.4,1145.8"/>
<polygon points="978.6,1139.5 975.1,1133.2 999.8,1139.5 975.1,1145.8"/>
<polygon points="1040.2,1139.5 1036.7,1133.2 1061.4,1139.5 1036.7,1145.8"/>
<polygon points="1101.7,1139.5 1098.2,1133.2 1122.9,1139.5 1098.2,1145.8"/>
<polygon points="1163.2,1139.5 1159.7,1133.2 1184.4,1139.5 1159.7,1145.8"/>
<polygon points="1224.4,1139.5 1220.9,1133.2 1245.6,1139.5 1220.9,1145.8"/>
<polygon points="1285.7,1139.5 1282.2,1133.2 1306.9,1139.5 1282.2,1145.8"/>
<polygon points="1346.7,1139.5 1343.2,1133.2 1367.9,1139.5 1343.2,1145.8"/>
<polygon points="1406.9,1139.5 1403.4,1133.2 1428.1,1139.5 1403.4,1145.8"/>
<polygon points="731.5,1195.3 728.0,1189.0 752.7,1195.3 728.0,1201.6"/>
<polygon points="794.8,1195.3 791.3,1189.0 816.0,1195.3 791.3,1201.6"/>
<polygon points="858.2,1195.3 854.7,1189.0 879.4,1195.3 854.7,1201.6"/>
<polygon points="921.3,1195.3 917.8,1189.0 942.5,1195.3 917.8,1201.6"/>
<polygon points="983.9,1195.3 980.4,1189.0 1005.1,1195.3 980.4,1201.6"/>
<polygon points="1045.7,1195.3 1042.2,1189.0 1066.9,1195.3 1042.2,1201.6"/>
<polygon points="1107.5,1195.3 1104.0,1189.0 1128.7,1195.3 1104.0,1201.6"/>
<polygon points="1168.7,1195.3 1165.2,1189.0 1189.9,1195.3 1165.2,1201.6"/>
<polygon points="1229.7,1195.3 1226.2,1189.0 1250.9,1195.3 1226.2,1201.6"/>
<polygon points="1290.1,1195.3 1286.6,1189.0 1311.3,1195.3 1286.6,1201.6"/>
<polygon points="1349.9,1195.3 1346.4,1189.0 1371.1,1195.3 1346.4,1201.6"/>
<polygon points="1409.4,1195.3 1405.9,1189.0 1430.6,1195.3 1405.9,1201.6"/>
<polygon points="1469.0,1195.3 1465.5,1189.0 1490.2,1195.3 1465.5,1201.6"/>
<polygon points="669.8,1251.1 666.3,1244.8 691.0,1251.1 666.3,1257.4"/>
<polygon points="734.2,1251.1 730.7,1244.8 755.4,1251.1 730.7,1257.4"/>
<polygon points="798.9,1251.1 795.4,1244.8 820.1,1251.1 795.4,1257.4"/>
<polygon points="863.7,1251.1 860.2,1244.8 884.9,1251.1 860.2,1257.4"/>
<polygon points="927.9,1251.1 924.4,1244.8 949.1,1251.1 924.4,1257.4"/>
<polygon points="991.3,1251.1 987.8,1244.8 1012.5,1251.1 987.8,1257.4"/>
<polygon points="1054.8,1251.1 1051.3,1244.8 1076.0,1251.1 1051.3,1257.4"/>
<polygon points="1116.5,1251.1 1113.0,1244.8 1137.7,1251.1 1113.0,1257.4"/>
<polygon points="1177.7,1251.1 1174.2,1244.8 1198.9,1251.1 1174.2,1257.4"/>
<polygon points="1237.2,1251.1 1233.7,1244.8 1258.4,1251.1 1233.7,1257.4"/>
<polygon points="1296.7,1251.1 1293.2,1244.8 1317.9,1251.1 1293.2,1257.4"/>
<polygon points="1355.4,1251.1 1351.9,1244.8 1376.6,1251.1 1351.9,1257.4"/>
<polygon points="1413.4,1251.1 1409.9,1244.8 1434.6,1251.1 1409.9,1257.4"/>
<polygon points="1471.7,1251.1 1468.2,1244.8 1492.9,1251.1 1468.2,1257.4"/>
<polygon points="1530.2,1251.1 1526.7,1244.8 1551.4,1251.1 1526.7,1257.4"/>
<polygon points="607.9,1306.9 604.4,1300.5 629.1,1306.9 604.4,1313.2"/>
<polygon points="671.9,1306.9 668.4,1300.5 693.1,1306.9 668.4,1313.2"/>
<polygon points="737.0,1306.9 733.5,1300.5 758.2,1306.9 733.5,1313.2"/>
<polygon points="802.4,1306.9 798.9,1300.5 823.6,1306.9 798.9,1313.2"/>
<polygon points="868.6,1306.9 865.1,1300.5 889.8,1306.9 865.1,1313.2"/>
<polygon points="934.7,1306.9 931.2,1300.5 955.9,1306.9 931.2,1313.2"/>
<polygon points="997.0,1304.9 998.6,1304.9 996.1,1300.5 1020.8,1306.9 996.1,1313.2 998.6,1308.8 997.0,1308.8"/>
<polygon points="1058.5,1304.9 1062.0,1304.9 1059.6,1300.5 1084.3,1306.9 1059.6,1313.2 1062.0,1308.8 1058.5,1308.8"/>
<polygon points="1119.9,1304.9 1123.9,1304.9 1121.5,1300.5 1146.2,1306.9 1121.5,1313.2 1123.9,1308.8 1119.9,1308.8"/>
<polygon points="1181.4,1304.9 1184.9,1304.9 1182.5,1300.5 1207.2,1306.9 1182.5,1313.2 1184.9,1308.8 1181.4,1308.8"/>
<polygon points="1242.9,1304.9 1244.4,1304.9 1242.0,1300.5 1266.7,1306.9 1242.0,1313.2 1244.4,1308.8 1242.9,1308.8"/>
<polygon points="1303.4,1306.9 1299.9,1300.5 1324.6,1306.9 1299.9,1313.2"/>
<polygon points="1360.2,1306.9 1356.7,1300.5 1381.4,1306.9 1356.7,1313.2"/>
<polygon points="1417.0,1306.9 1413.5,1300.5 1438.2,1306.9 1413.5,1313.2"/>
<polygon points="1474.5,1306.9 1471.0,1300.5 1495.7,1306.9 1471.0,1313.2"/>
<polygon points="1532.3,1306.9 1528.8,1300.5 1553.5,1306.9 1528.8,1313.2"/>
<polygon points="1591.3,1306.9 1587.8,1300.5 1612.5,1306.9 1587.8,1313.2"/>
<polygon points="609.2,1362.7 605.7,1356.3 630.4,1362.7 605.7,1369.0"/>
<polygon points="673.8,1362.7 670.3,1356.3 695.0,1362.7 670.3,1369.0"/>
<polygon points="739.7,1362.7 736.2,1356.3 760.9,1362.7 736.2,1369.0"/>
<polygon points="806.8,1362.7 803.3,1356.3 828.0,1362.7 803.3,1369.0"/>
<polygon points="873.9,1362.7 870.4,1356.3 895.1,1362.7 870.4,1369.0"/>
<polygon points="935.6,1360.7 939.5,1360.7 937.1,1356.3 961.8,1362.7 937.1,1369.0 939.5,1364.6 935.6,1364.6"/>
<polygon points="997.0,1360.7 1005.5,1360.7 1003.0,1356.3 1027.7,1362.7 1003.0,1369.0 1005.5,1364.6 997.0,1364.6"/>
<polygon points="1058.5,1360.7 1069.4,1360.7 1066.9,1356.3 1091.6,1362.7 1066.9,1369.0 1069.4,1364.6 1058.5,1364.6"/>
<polygon points="1119.9,1360.7 1131.7,1360.7 1129.3,1356.3 1154.0,1362.7 1129.3,1369.0 1131.7,1364.6 1119.9,1364.6"/>
<polygon points="1181.4,1360.7 1192.3,1360.7 1189.9,1356.3 1214.6,1362.7 1189.9,1369.0 1192.3,1364.6 1181.4,1364.6"/>
<polygon points="1242.9,1360.7 1251.3,1360.7 1248.9,1356.3 1273.6,1362.7 1248.9,1369.0 1251.3,1364.6 1242.9,1364.6"/>
<polygon points="1304.3,1360.7 1308.3,1360.7 1305.8,1356.3 1330.5,1362.7 1305.8,1369.0 1308.3,1364.6 1304.3,1364.6"/>
<polygon points="1365.6,1362.7 1362.1,1356.3 1386.8,1362.7 1362.1,1369.0"/>
<polygon points="1421.4,1362.7 1417.9,1356.3 1442.6,1362.7 1417.9,1369.0"/>
<polygon points="1477.2,1362.7 1473.7,1356.3 1498.4,1362.7 1473.7,1369.0"/>
<polygon points="1534.2,1362.7 1530.7,1356.3 1555.4,1362.7 1530.7,1369.0"/>
<polygon points="1592.5,1362.7 1589.0,1356.3 1613.7,1362.7 1589.0,1369.0"/>
<polygon points="546.5,1418.5 543.0,1412.2 567.7,1418.5 543.0,1424.8"/>
<polygon points="610.5,1418.5 607.0,1412.2 631.7,1418.5 607.0,1424.8"/>
<polygon points="676.1,1418.5 672.6,1412.2 697.3,1418.5 672.6,1424.8"/>
<polygon points="742.9,1418.5 739.4,1412.2 764.1,1418.5 739.4,1424.8"/>
<polygon points="810.1,1418.5 806.6,1412.2 831.3,1418.5 806.6,1424.8"/>
<polygon points="874.1,1416.5 877.0,1416.5 874.5,1412.2 899.2,1418.5 874.5,1424.8 877.0,1420.5 874.1,1420.5"/>
<polygon points="935.6,1416.5 944.0,1416.5 941.6,1412.2 966.3,1418.5 941.6,1424.8 944.0,1420.5 935.6,1420.5"/>
<polygon points="997.0,1416.5 1010.2,1416.5 1007.7,1412.2 1032.4,1418.5 1007.7,1424.8 1010.2,1420.5 997.0,1420.5"/>
<polygon points="1058.5,1416.5 1074.4,1416.5 1071.9,1412.2 1096.6,1418.5 1071.9,1424.8 1074.4,1420.5 1058.5,1420.5"/>
<polygon points="1119.9,1416.5 1137.2,1416.5 1134.8,1412.2 1159.5,1418.5 1134.8,1424.8 1137.2,1420.5 1119.9,1420.5"/>
<polygon points="1181.4,1416.5 1197.3,1416.5 1194.9,1412.2 1219.6,1418.5 1194.9,1424.8 1197.3,1420.5 1181.4,1420.5"/>
<polygon points="1242.9,1416.5 1256.0,1416.5 1253.6,1412.2 1278.3,1418.5 1253.6,1424.8 1256.0,1420.5 1242.9,1420.5"/>
<polygon points="1304.3,1416.5 1312.7,1416.5 1310.3,1412.2 1335.0,1418.5 1310.3,1424.8 1312.7,1420.5 1304.3,1420.5"/>
<polygon points="1365.8,1416.5 1368.6,1416.5 1366.2,1412.2 1390.9,1418.5 1366.2,1424.8 1368.6,1420.5 1365.8,1420.5"/>
<polygon points="1424.6,1418.5 1421.1,1412.2 1445.8,1418.5 1421.1,1424.8"/>
<polygon points="1480.4,1418.5 1476.9,1412.2 1501.6,1418.5 1476.9,1424.8"/>
<polygon points="1536.6,1418.5 1533.1,1412.2 1557.8,1418.5 1533.1,1424.8"/>
<polygon points="1593.8,1418.5 1590.3,1412.2 1615.0,1418.5 1590.3,1424.8"/>
<polygon points="1652.7,1418.5 1649.2,1412.2 1673.9,1418.5 1649.2,1424.8"/>
<polygon points="546.9,1474.3 543.4,1468.0 568.1,1474.3 543.4,1480.6"/>
<polygon points="610.9,1474.3 607.4,1468.0 632.1,1474.3 607.4,1480.6"/>
<polygon points="676.8,1474.3 673.3,1468.0 698.0,1474.3 673.3,1480.6"/>
<polygon points="743.7,1474.3 740.2,1468.0 764.9,1474.3 740.2,1480.6"/>
<polygon points="811.3,1474.3 807.8,1468.0 832.5,1474.3 807.8,1480.6"/>
<polygon points="874.1,1472.3 878.5,1472.3 876.1,1468.0 900.8,1474.3 876.1,1480.6 878.5,1476.2 874.1,1476.2"/>
<polygon points="935.6,1472.3 945.7,1472.3 943.2,1468.0 967.9,1474.3 943.2,1480.6 945.7,1476.2 935.6,1476.2"/>
<polygon points="997.0,1472.3 1012.1,1472.3 1009.6,1468.0 1034.3,1474.3 1009.6,1480.6 1012.1,1476.2 997.0,1476.2"/>
<polygon points="1058.5,1472.3 1076.6,1472.3 1074.1,1468.0 1098.8,1474.3 1074.1,1480.6 1076.6,1476.2 1058.5,1476.2"/>
<polygon points="1119.9,1472.3 1139.1,1472.3 1136.7,1468.0 1161.4,1474.3 1136.7,1480.6 1139.1,1476.2 1119.9,1476.2"/>
<polygon points="1181.4,1472.3 1199.5,1472.3 1197.1,1468.0 1221.8,1474.3 1197.1,1480.6 1199.5,1476.2 1181.4,1476.2"/>
<polygon points="1242.9,1472.3 1257.9,1472.3 1255.5,1468.0 1280.2,1474.3 1255.5,1480.6 1257.9,1476.2 1242.9,1476.2"/>
<polygon points="1304.3,1472.3 1314.4,1472.3 1312.0,1468.0 1336.7,1474.3 1312.0,1480.6 1314.4,1476.2 1304.3,1476.2"/>
<polygon points="1365.8,1472.3 1370.1,1472.3 1367.7,1468.0 1392.4,1474.3 1367.7,1480.6 1370.1,1476.2 1365.8,1476.2"/>
<polygon points="1425.9,1474.3 1422.4,1468.0 1447.1,1474.3 1422.4,1480.6"/>
<polygon points="1481.2,1474.3 1477.7,1468.0 1502.4,1474.3 1477.7,1480.6"/>
<polygon points="1537.2,1474.3 1533.7,1468.0 1558.4,1474.3 1533.7,1480.6"/>
<polygon points="1594.2,1474.3 1590.7,1468.0 1615.4,1474.3 1590.7,1480.6"/>
<polygon points="1653.1,1474.3 1649.6,1468.0 1674.3,1474.3 1649.6,1480.6"/>
<polygon points="547.5,1530.1 544.0,1523.8 568.7,1530.1 544.0,1536.4"/>
<polygon points="611.7,1530.1 608.2,1523.8 632.9,1530.1 608.2,1536.4"/>
<polygon points="676.8,1530.1 673.3,1523.8 698.0,1530.1 673.3,1536.4"/>
<polygon points="743.7,1530.1 740.2,1523.8 764.9,1530.1 740.2,1536.4"/>
<polygon points="811.7,1530.1 808.2,1523.8 832.9,1530.1 808.2,1536.4"/>
<polygon points="874.1,1528.1 877.9,1528.1 875.5,1523.8 900.2,1530.1 875.5,1536.4 877.9,1532.0 874.1,1532.0"/>
<polygon points="935.6,1528.1 945.4,1528.1 942.9,1523.8 967.6,1530.1 942.9,1536.4 945.4,1532.0 935.6,1532.0"/>
<polygon points="997.0,1528.1 1011.3,1528.1 1008.8,1523.8 1033.5,1530.1 1008.8,1536.4 1011.3,1532.0 997.0,1532.0"/>
<polygon points="1058.5,1528.1 1075.5,1528.1 1073.0,1523.8 1097.7,1530.1 1073.0,1536.4 1075.5,1532.0 1058.5,1532.0"/>
<polygon points="1119.9,1528.1 1138.0,1528.1 1135.6,1523.8 1160.3,1530.1 1135.6,1536.4 1138.0,1532.0 1119.9,1532.0"/>
<polygon points="1181.4,1528.1 1198.4,1528.1 1196.0,1523.8 1220.7,1530.1 1196.0,1536.4 1198.4,1532.0 1181.4,1532.0"/>
<polygon points="1242.9,1528.1 1257.1,1528.1 1254.7,1523.8 1279.4,1530.1 1254.7,1536.4 1257.1,1532.0 1242.9,1532.0"/>
<polygon points="1304.3,1528.1 1314.1,1528.1 1311.7,1523.8 1336.4,1530.1 1311.7,1536.4 1314.1,1532.0 1304.3,1532.0"/>
<polygon points="1365.8,1528.1 1369.6,1528.1 1367.1,1523.8 1391.8,1530.1 1367.1,1536.4 1369.6,1532.0 1365.8,1532.0"/>
<polygon points="1426.3,1530.1 1422.8,1523.8 1447.5,1530.1 1422.8,1536.4"/>
<polygon points="1481.2,1530.1 1477.7,1523.8 1502.4,1530.1 1477.7,1536.4"/>
<polygon points="1537.2,1530.1 1533.7,1523.8 1558.4,1530.1 1533.7,1536.4"/>
<polygon points="1595.1,1530.1 1591.6,1523.8 1616.3,1530.1 1591.6,1536.4"/>
<polygon points="1653.8,1530.1 1650.3,1523.8 1675.0,1530.1 1650.3,1536.4"/>
<polygon points="547.1,1585.9 543.6,1579.6 568.3,1585.9 543.6,1592.2"/>
<polygon points="611.1,1585.9 607.6,1579.6 632.3,1585.9 607.6,1592.2"/>
<polygon points="675.9,1585.9 672.4,1579.6 697.1,1585.9 672.4,1592.2"/>
<polygon points="742.6,1585.9 739.1,1579.6 763.8,1585.9 739.1,1592.2"/>
<polygon points="809.9,1585.9 806.4,1579.6 831.1,1585.9 806.4,1592.2"/>
<polygon points="874.1,1584.0 875.8,1584.0 873.4,1579.6 898.1,1585.9 873.4,1592.2 875.8,1587.9 874.1,1587.9"/>
<polygon points="935.6,1584.0 942.1,1584.0 939.6,1579.6 964.3,1585.9 939.6,1592.2 942.1,1587.9 935.6,1587.9"/>
<polygon points="997.0,1584.0 1007.7,1584.0 1005.2,1579.6 1029.9,1585.9 1005.2,1592.2 1007.7,1587.9 997.0,1587.9"/>
<polygon points="1058.5,1584.0 1071.3,1584.0 1068.9,1579.6 1093.6,1585.9 1068.9,1592.2 1071.3,1587.9 1058.5,1587.9"/>
<polygon points="1119.9,1584.0 1133.6,1584.0 1131.2,1579.6 1155.9,1585.9 1131.2,1592.2 1133.6,1587.9 1119.9,1587.9"/>
<polygon points="1181.4,1584.0 1194.2,1584.0 1191.8,1579.6 1216.5,1585.9 1191.8,1592.2 1194.2,1587.9 1181.4,1587.9"/>
<polygon points="1242.9,1584.0 1253.5,1584.0 1251.1,1579.6 1275.8,1585.9 1251.1,1592.2 1253.5,1587.9 1242.9,1587.9"/>
<polygon points="1304.3,1584.0 1310.8,1584.0 1308.4,1579.6 1333.1,1585.9 1308.4,1592.2 1310.8,1587.9 1304.3,1587.9"/>
<polygon points="1365.8,1584.0 1367.4,1584.0 1365.0,1579.6 1389.7,1585.9 1365.0,1592.2 1367.4,1587.9 1365.8,1587.9"/>
<polygon points="1424.5,1585.9 1421.0,1579.6 1445.7,1585.9 1421.0,1592.2"/>
<polygon points="1480.1,1585.9 1476.6,1579.6 1501.3,1585.9 1476.6,1592.2"/>
<polygon points="1536.3,1585.9 1532.8,1579.6 1557.5,1585.9 1532.8,1592.2"/>
<polygon points="1594.4,1585.9 1590.9,1579.6 1615.6,1585.9 1590.9,1592.2"/>
<polygon points="1653.3,1585.9 1649.8,1579.6 1674.5,1585.9 1649.8,1592.2"/>
<polygon points="546.8,1641.7 543.3,1635.3 568.0,1641.7 543.3,1648.0"/>
<polygon points="610.3,1641.7 606.8,1635.3 631.5,1641.7 606.8,1648.0"/>
<polygon points="674.9,1641.7 671.4,1635.3 696.1,1641.7 671.4,1648.0"/>
<polygon points="740.8,1641.7 737.3,1635.3 762.0,1641.7 737.3,1648.0"/>
<polygon points="806.7,1641.7 803.2,1635.3 827.9,1641.7 803.2,1648.0"/>
<polygon points="872.5,1641.7 869.0,1635.3 893.7,1641.7 869.0,1648.0"/>
<polygon points="935.6,1639.7 936.9,1639.7 934.4,1635.3 959.1,1641.7 934.4,1648.0 936.9,1643.6 935.6,1643.6"/>
<polygon points="997.0,1639.7 1001.4,1639.7 999.0,1635.3 1023.7,1641.7 999.0,1648.0 1001.4,1643.6 997.0,1643.6"/>
<polygon points="1058.5,1639.7 1065.0,1639.7 1062.5,1635.3 1087.2,1641.7 1062.5,1648.0 1065.0,1643.6 1058.5,1643.6"/>
<polygon points="1119.9,1639.7 1127.1,1639.7 1124.7,1635.3 1149.4,1641.7 1124.7,1648.0 1127.1,1643.6 1119.9,1643.6"/>
<polygon points="1181.4,1639.7 1187.9,1639.7 1185.5,1635.3 1210.2,1641.7 1185.5,1648.0 1187.9,1643.6 1181.4,1643.6"/>
<polygon points="1242.9,1639.7 1247.2,1639.7 1244.8,1635.3 1269.5,1641.7 1244.8,1648.0 1247.2,1643.6 1242.9,1643.6"/>
<polygon points="1304.3,1639.7 1305.6,1639.7 1303.2,1635.3 1327.9,1641.7 1303.2,1648.0 1305.6,1643.6 1304.3,1643.6"/>
<polygon points="1364.2,1641.7 1360.7,1635.3 1385.4,1641.7 1360.7,1648.0"/>
<polygon points="1421.3,1641.7 1417.8,1635.3 1442.5,1641.7 1417.8,1648.0"/>
<polygon points="1478.3,1641.7 1474.8,1635.3 1499.5,1641.7 1474.8,1648.0"/>
<polygon points="1535.3,1641.7 1531.8,1635.3 1556.5,1641.7 1531.8,1648.0"/>
<polygon points="1593.7,1641.7 1590.2,1635.3 1614.9,1641.7 1590.2,1648.0"/>
<polygon points="1653.0,1641.7 1649.5,1635.3 1674.2,1641.7 1649.5,1648.0"/>
<polygon points="608.8,1697.5 605.3,1691.2 630.0,1697.5 605.3,1703.8"/>
<polygon points="672.8,1697.5 669.3,1691.2 694.0,1697.5 669.3,1703.8"/>
<polygon points="737.2,1697.5 733.7,1691.2 758.4,1697.5 733.7,1703.8"/>
<polygon points="801.8,1697.5 798.3,1691.2 823.0,1697.5 798.3,1703.8"/>
<polygon points="866.4,1697.5 862.9,1691.2 887.6,1697.5 862.9,1703.8"/>
<polygon points="931.5,1697.5 928.0,1691.2 952.7,1697.5 928.0,1703.8"/>
<polygon points="995.4,1697.5 991.9,1691.2 1016.6,1697.5 991.9,1703.8"/>
<polygon points="1058.4,1697.5 1054.9,1691.2 1079.6,1697.5 1054.9,1703.8"/>
<polygon points="1120.3,1697.5 1116.8,1691.2 1141.5,1697.5 1116.8,1703.8"/>
<polygon points="1181.3,1697.5 1177.8,1691.2 1202.5,1697.5 1177.8,1703.8"/>
<polygon points="1241.2,1697.5 1237.7,1691.2 1262.4,1697.5 1237.7,1703.8"/>
<polygon points="1300.2,1697.5 1296.7,1691.2 1321.4,1697.5 1296.7,1703.8"/>
<polygon points="1358.1,1697.5 1354.6,1691.2 1379.3,1697.5 1354.6,1703.8"/>
<polygon points="1416.4,1697.5 1412.9,1691.2 1437.6,1697.5 1412.9,1703.8"/>
<polygon points="1474.7,1697.5 1471.2,1691.2 1495.9,1697.5 1471.2,1703.8"/>
<polygon points="1533.2,1697.5 1529.7,1691.2 1554.4,1697.5 1529.7,1703.8"/>
<polygon points="1592.1,1697.5 1588.6,1691.2 1613.3,1697.5 1588.6,1703.8"/>
<polygon points="607.9,1753.3 604.4,1747.0 629.1,1753.3 604.4,1759.6"/>
<polygon points="671.1,1753.3 667.6,1747.0 692.3,1753.3 667.6,1759.6"/>
<polygon points="734.2,1753.3 730.7,1747.0 755.4,1753.3 730.7,1759.6"/>
<polygon points="797.8,1753.3 794.3,1747.0 819.0,1753.3 794.3,1759.6"/>
<polygon points="860.9,1753.3 857.4,1747.0 882.1,1753.3 857.4,1759.6"/>
<polygon points="924.3,1753.3 920.8,1747.0 945.5,1753.3 920.8,1759.6"/>
<polygon points="987.2,1753.3 983.7,1747.0 1008.4,1753.3 983.7,1759.6"/>
<polygon points="1049.5,1753.3 1046.0,1747.0 1070.7,1753.3 1046.0,1759.6"/>
<polygon points="1111.2,1753.3 1107.7,1747.0 1132.4,1753.3 1107.7,1759.6"/>
<polygon points="1172.4,1753.3 1168.9,1747.0 1193.6,1753.3 1168.9,1759.6"/>
<polygon points="1233.0,1753.3 1229.5,1747.0 1254.2,1753.3 1229.5,1759.6"/>
<polygon points="1293.1,1753.3 1289.6,1747.0 1314.3,1753.3 1289.6,1759.6"/>
<polygon points="1352.6,1753.3 1349.1,1747.0 1373.8,1753.3 1349.1,1759.6"/>
<polygon points="1412.4,1753.3 1408.9,1747.0 1433.6,1753.3 1408.9,1759.6"/>
<polygon points="1471.7,1753.3 1468.2,1747.0 1492.9,1753.3 1468.2,1759.6"/>
<polygon points="1531.5,1753.3 1528.0,1747.0 1552.7,1753.3 1528.0,1759.6"/>
<polygon points="1591.3,1753.3 1587.8,1747.0 1612.5,1753.3 1587.8,1759.6"/>
<polygon points="669.6,1809.1 666.1,1802.8 690.8,1809.1 666.1,1815.4"/>
<polygon points="731.7,1809.1 728.2,1802.8 752.9,1809.1 728.2,1815.4"/>
<polygon points="794.0,1809.1 790.5,1802.8 815.2,1809.1 790.5,1815.4"/>
<polygon points="856.1,1809.1 852.6,1802.8 877.3,1809.1 852.6,1815.4"/>
<polygon points="918.2,1809.1 914.7,1802.8 939.4,1809.1 914.7,1815.4"/>
<polygon points="980.1,1809.1 976.6,1802.8 1001.3,1809.1 976.6,1815.4"/>
<polygon points="1041.7,1809.1 1038.2,1802.8 1062.9,1809.1 1038.2,1815.4"/>
<polygon points="1103.3,1809.1 1099.8,1802.8 1124.5,1809.1 1099.8,1815.4"/>
<polygon points="1164.6,1809.1 1161.1,1802.8 1185.8,1809.1 1161.1,1815.4"/>
<polygon points="1225.9,1809.1 1222.4,1802.8 1247.1,1809.1 1222.4,1815.4"/>
<polygon points="1286.9,1809.1 1283.4,1802.8 1308.1,1809.1 1283.4,1815.4"/>
<polygon points="1347.7,1809.1 1344.2,1802.8 1368.9,1809.1 1344.2,1815.4"/>
<polygon points="1408.6,1809.1 1405.1,1802.8 1429.8,1809.1 1405.1,1815.4"/>
<polygon points="1469.2,1809.1 1465.7,1802.8 1490.4,1809.1 1465.7,1815.4"/>
<polygon points="1530.0,1809.1 1526.5,1802.8 1551.2,1809.1 1526.5,1815.4"/>
</g>
<rect x="312.7" y="1759.1" width="418.5" height="50.3" fill="url(#cpt)" stroke="#000" stroke-width="2.8"/><path d="M312.7 1809.4V1821.9M731.2 1809.4V1821.9" stroke="#000" stroke-width="3" fill="none"/><text x="313.2" y="1875.5" font-size="61.5" text-anchor="middle">0</text><clipPath id="c5" clipPathUnits="userSpaceOnUse"><path clip-rule="evenodd" d="M710.5 1814.0H752.7V1894.0H710.5ZM716.35 1868.12H729.82V1877.50H716.35ZM735.47 1868.12H748.51V1877.50H735.47Z"/></clipPath><text x="731.6" y="1875.5" font-size="61.5" text-anchor="middle" clip-path="url(#c5)">1</text><text x="521.9" y="1724.3" font-size="82.3" text-anchor="middle">slip(m)</text>
<g stroke="#000" fill="none">
<path stroke-width="2.1" d="M228.8 1893.4V1905.8M536.1 1893.4V1905.8M843.4 1893.4V1905.8M1150.7 1893.4V1905.8M1458.0 1893.4V1905.8M1765.2 1893.4V1905.8M2072.5 1893.4V1905.8M228.8 1893.2H215.7M228.8 1614.2H215.7M228.8 1335.2H215.7M228.8 1056.2H215.7"/>
<path stroke-width="2.1" d="M290.3 1893.4V1899.8M351.7 1893.4V1899.8M413.2 1893.4V1899.8M474.6 1893.4V1899.8M597.5 1893.4V1899.8M659.0 1893.4V1899.8M720.5 1893.4V1899.8M781.9 1893.4V1899.8M904.8 1893.4V1899.8M966.3 1893.4V1899.8M1027.8 1893.4V1899.8M1089.2 1893.4V1899.8M1212.1 1893.4V1899.8M1273.6 1893.4V1899.8M1335.0 1893.4V1899.8M1396.5 1893.4V1899.8M1519.4 1893.4V1899.8M1580.9 1893.4V1899.8M1642.3 1893.4V1899.8M1703.8 1893.4V1899.8M1826.7 1893.4V1899.8M1888.2 1893.4V1899.8M1949.6 1893.4V1899.8M2011.1 1893.4V1899.8M228.8 1837.4H221.6M228.8 1781.6H221.6M228.8 1725.8H221.6M228.8 1670.0H221.6M228.8 1558.4H221.6M228.8 1502.6H221.6M228.8 1446.8H221.6M228.8 1391.0H221.6M228.8 1279.4H221.6M228.8 1223.6H221.6M228.8 1167.8H221.6M228.8 1112.0H221.6"/>
<rect x="228.8" y="1056.3" width="1843.9" height="837.1" stroke-width="3.1"/>
</g>
<g font-size="50">
<text x="228.5" y="1953.0" font-size="50" text-anchor="middle"><tspan dy="6.5">−</tspan><tspan dy="-6.5">30</tspan></text>
<text x="535.8" y="1953.0" font-size="50" text-anchor="middle"><tspan dy="6.5">−</tspan><tspan dy="-6.5">20</tspan></text>
<clipPath id="c6" clipPathUnits="userSpaceOnUse"><path clip-rule="evenodd" d="M796.7 1903.0H889.5V1968.0H796.7ZM831.38 1947.00H842.33V1955.00H831.38ZM846.93 1947.00H857.53V1955.00H846.93Z"/></clipPath><text x="843.1" y="1953.0" font-size="50" text-anchor="middle" clip-path="url(#c6)"><tspan dy="6.5">−</tspan><tspan dy="-6.5">10</tspan></text>
<text x="1150.4" y="1953.0" font-size="50" text-anchor="middle">0</text>
<clipPath id="c7" clipPathUnits="userSpaceOnUse"><path clip-rule="evenodd" d="M1425.9 1903.0H1489.5V1968.0H1425.9ZM1431.36 1947.00H1442.31V1955.00H1431.36ZM1446.91 1947.00H1457.51V1955.00H1446.91Z"/></clipPath><text x="1457.7" y="1953.0" font-size="50" text-anchor="middle" clip-path="url(#c7)">10</text>
<text x="1765.0" y="1953.0" font-size="50" text-anchor="middle">20</text>
<text x="2072.2" y="1953.0" font-size="50" text-anchor="middle">30</text>
<text x="205.1" y="1911.8" font-size="50" text-anchor="end"><tspan dy="6.5">−</tspan><tspan dy="-6.5">30</tspan></text>
<text x="205.1" y="1632.8" font-size="50" text-anchor="end"><tspan dy="6.5">−</tspan><tspan dy="-6.5">20</tspan></text>
<clipPath id="c8" clipPathUnits="userSpaceOnUse"><path clip-rule="evenodd" d="M116.3 1303.8H209.1V1368.8H116.3ZM151.00 1347.80H161.95V1355.80H151.00ZM166.55 1347.80H177.15V1355.80H166.55Z"/></clipPath><text x="205.1" y="1353.8" font-size="50" text-anchor="end" clip-path="url(#c8)"><tspan dy="6.5">−</tspan><tspan dy="-6.5">10</tspan></text>
<text x="205.1" y="1074.8" font-size="50" text-anchor="end">0</text>
</g>
<text font-size="71.5" text-anchor="middle" transform="translate(87.8 1474.2) rotate(-90)">Depth (km)</text>
<text x="1150.7" y="2035.3" font-size="71.5" text-anchor="middle">Distance (km)</text>
<text x="253.0" y="1136.1" font-size="88">(b)</text>
</g>
</svg></body></html>
